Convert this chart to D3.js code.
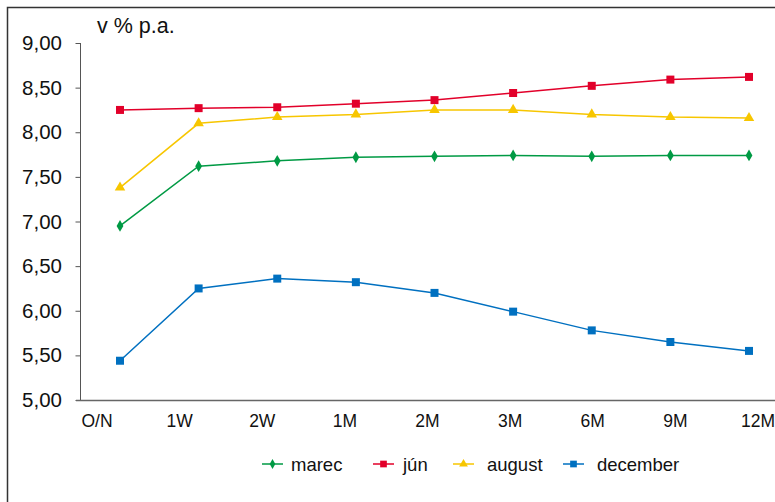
<!DOCTYPE html>
<html>
<head>
<meta charset="utf-8">
<script src="https://cdn.jsdelivr.net/npm/d3@7"></script>
<style>
  body { margin: 0; background: #fff; }
  svg { display: block; font-family: "Liberation Sans", Arial, sans-serif; }
</style>
</head>
<body>
<div id="container"></div>
<script>
var categories = ['O/N', '1W', '2W', '1M', '2M', '3M', '6M', '9M', '12M'];
var marec    = [6.95, 7.62, 7.68, 7.72, 7.73, 7.74, 7.73, 7.74, 7.74];
var jun      = [8.25, 8.27, 8.28, 8.32, 8.36, 8.44, 8.52, 8.59, 8.62];
var august   = [7.38, 8.10, 8.17, 8.20, 8.25, 8.25, 8.20, 8.17, 8.16];
var december = [5.44, 6.25, 6.36, 6.32, 6.20, 5.99, 5.78, 5.65, 5.55];
var yTicks = [5, 5.5, 6, 6.5, 7, 7.5, 8, 8.5, 9];

var series = [
    { name: 'marec', values: marec, color: '#009a44', symbol: d3.symbolDiamond, size: 40 },
    { name: 'jún', values: jun, color: '#e2002a', symbol: d3.symbolSquare, size: 64 },
    { name: 'august', values: august, color: '#f7c600', symbol: d3.symbolTriangle, size: 48 },
    { name: 'december', values: december, color: '#0070c0', symbol: d3.symbolSquare, size: 64 }
];

var width = 775, height = 502;

var svg = d3.select('#container')
    .append('svg')
    .attr('width', width)
    .attr('height', height);

// outer frame (runs off the right and bottom edge)
svg.append('rect')
    .attr('x', 7.5)
    .attr('y', 7.5)
    .attr('width', 800)
    .attr('height', 520)
    .attr('fill', 'none')
    .attr('stroke', '#333')
    .attr('stroke-width', 1.5);

var scaleX = d3.scalePoint()
    .domain(categories)
    .range([120, 749]);

// label positions are spread slightly differently from the points
var labelX = d3.scalePoint()
    .domain(categories)
    .range([97, 758]);

var scaleY = d3.scaleLinear()
    .domain([5, 9])
    .range([400, 43]);

// y axis
var yAxis = svg.append('g')
    .attr('transform', 'translate(80.5,0)')
    .call(d3.axisLeft(scaleY).tickValues(yTicks).tickSize(5).tickPadding(13.5)
        .tickFormat(function(d) { return d3.format('.2f')(d).replace('.', ','); }));
yAxis.select('.domain').attr('stroke', '#555').attr('d', 'M0,43V400');
yAxis.selectAll('.tick line').attr('stroke', '#555');
yAxis.selectAll('.tick text')
    .attr('font-size', 20.5)
    .attr('fill', '#111')
    .attr('font-family', '"Liberation Sans", Arial, sans-serif');

// x axis line
svg.append('line')
    .attr('x1', 76)
    .attr('x2', 800)
    .attr('y1', 400.5)
    .attr('y2', 400.5)
    .attr('stroke', '#666')
    .attr('stroke-width', 1.5);

svg.append('g')
    .selectAll('text')
    .data(categories)
    .enter()
    .append('text')
    .attr('x', function(d) { return labelX(d); })
    .attr('y', 427)
    .attr('text-anchor', 'middle')
    .attr('font-size', 17.5)
    .attr('fill', '#111')
    .text(function(d) { return d; });

// unit label
svg.append('text')
    .attr('x', 97)
    .attr('y', 33)
    .attr('font-size', 21.5)
    .attr('fill', '#111')
    .text('v % p.a.');

var line = d3.line()
    .x(function(d, i) { return scaleX(categories[i]); })
    .y(function(d) { return scaleY(d); });

series.forEach(function(s) {
    svg.append('path')
        .datum(s.values)
        .attr('d', line)
        .attr('fill', 'none')
        .attr('stroke', s.color)
        .attr('stroke-width', 1.5);

    svg.append('g')
        .selectAll('path')
        .data(s.values)
        .enter()
        .append('path')
        .attr('transform', function(d, i) {
            return 'translate(' + scaleX(categories[i]) + ',' + scaleY(d) + ')';
        })
        .attr('d', d3.symbol().type(s.symbol).size(s.size))
        .attr('fill', s.color);
});

// legend
var legendX = [262, 373, 453, 563];
var legendText = [29, 30, 34, 34];
var legend = svg.append('g')
    .selectAll('g')
    .data(series)
    .enter()
    .append('g')
    .attr('transform', function(d, i) { return 'translate(' + legendX[i] + ',464)'; });

legend.append('line')
    .attr('x1', 0)
    .attr('x2', 21)
    .attr('stroke', function(d) { return d.color; })
    .attr('stroke-width', 1.5);

legend.append('path')
    .attr('transform', 'translate(10.5,0)')
    .attr('d', function(d) { return d3.symbol().type(d.symbol).size(d.size * 0.7)(); })
    .attr('fill', function(d) { return d.color; });

legend.append('text')
    .attr('x', function(d, i) { return legendText[i]; })
    .attr('y', 6.5)
    .attr('font-size', 18.5)
    .attr('fill', '#111')
    .text(function(d) { return d.name; });
</script>
</body>
</html>
